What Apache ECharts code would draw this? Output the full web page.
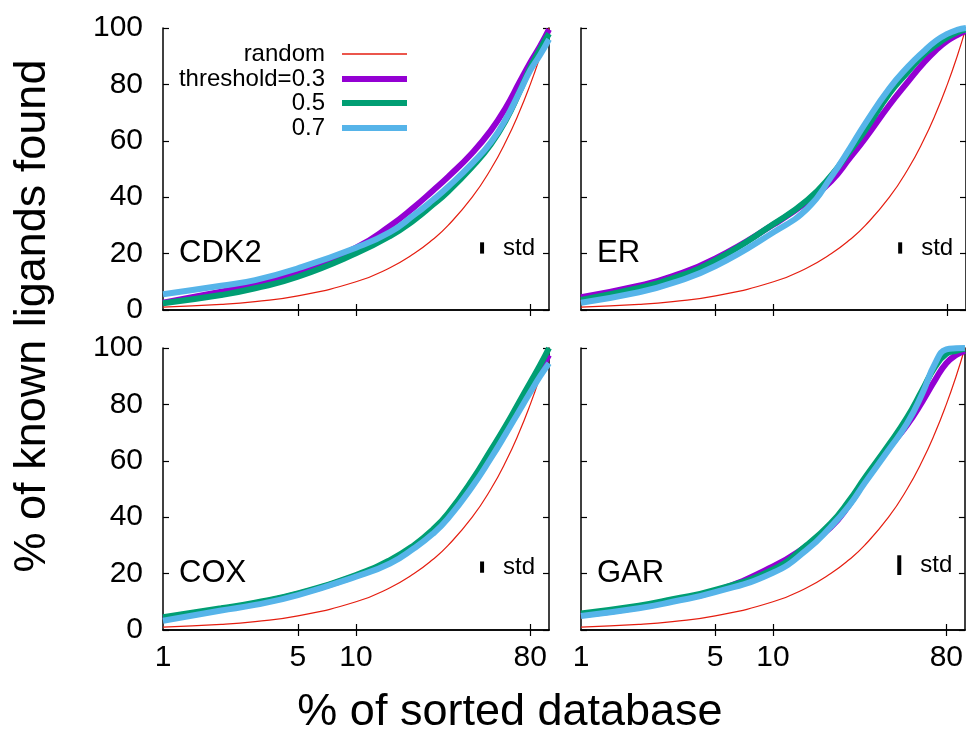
<!DOCTYPE html>
<html>
<head>
<meta charset="utf-8">
<script src="https://cdn.jsdelivr.net/npm/echarts@6/dist/echarts.min.js"></script>
<style>
  html, body { margin: 0; padding: 0; background: #fff; }
  #main { width: 966px; height: 730px; }
</style>
</head>
<body>
<div id="main"></div>
<script>
// % of sorted database (x) for every curve
const xPct = [1, 2, 3, 5, 10, 15, 20, 25, 30, 40, 50, 60, 70, 80, 90, 100];
const randomPct = [1, 2, 3, 5, 10, 15, 20, 25, 30, 40, 50, 60, 70, 80, 90, 100];

const panels = ['CDK2', 'ER', 'COX', 'GAR'];

// % of known ligands found, per threshold
const cdk2_03 = [2.6, 6.5, 8.9, 13.4, 22.1, 29.8, 36.5, 42.3, 47.2, 55.7, 63.7, 72, 80.5, 87.8, 93.6, 99.5];
const cdk2_05 = [2.4, 5.3, 7.7, 11.8, 20.1, 26.2, 31.9, 37.3, 42, 50.8, 58.8, 67.5, 77, 86, 92.5, 98];
const cdk2_07 = [5.6, 8.6, 10.6, 14.8, 22.1, 27.6, 33.7, 39, 43.7, 52, 59.5, 68, 77, 85, 90.5, 96];

const er_03 = [4.5, 8.6, 12, 18.3, 30.3, 38.4, 45.8, 54, 60.9, 72.7, 81, 87.5, 92.2, 95.5, 97.5, 99];
const er_05 = [3.6, 7.8, 11.2, 17.7, 30.5, 39, 47.8, 56.5, 63.8, 76.8, 84.5, 90.4, 94, 96.7, 98.5, 99.5];
const er_07 = [2.6, 6.3, 9.6, 15.6, 27.6, 36, 47.3, 57.5, 66.2, 78.6, 86.3, 91.6, 95.5, 97.9, 99.3, 100];

const cox_03 = [4.2, 7.4, 9.4, 12.8, 19.2, 24.2, 29.6, 34.8, 40.6, 52, 62.3, 71.2, 79.2, 86, 92, 97.5];
const cox_05 = [4.5, 7.7, 9.7, 13, 19.5, 24.8, 30.1, 35.6, 41.4, 53.2, 63.8, 72.7, 80.8, 87.8, 94, 100];
const cox_07 = [3.3, 6.9, 8.9, 12.4, 18.9, 23.6, 29, 34.1, 39.6, 50.8, 60.9, 69.8, 77.6, 84.3, 90, 94.6];

const gar_03 = [5.2, 8, 10.4, 13.8, 22.5, 29.8, 36.4, 44.4, 52.6, 64.4, 72.7, 81, 88.7, 94.6, 97.5, 99];
const gar_05 = [5.9, 8.6, 10.9, 14.2, 21.5, 30.1, 37.8, 46, 53.8, 65.6, 75.4, 85.1, 93.4, 97.9, 99, 99.8];
const gar_07 = [5, 7.7, 10, 13.4, 20.3, 28.4, 36.6, 44.2, 52, 63.8, 73.3, 83.9, 94.6, 99.5, 99.9, 100];

// std marker (x, centre y, half height) per panel
const stdX = [45, 45.5, 45, 45.5];
const stdY = [22, 22, 22.3, 23];
const stdHalf = [2, 2, 2, 3.5];

const xTicks = [5, 10, 80];
const xLabels = [1, 5, 10, 80];

const curves = [
  [cdk2_03, cdk2_05, cdk2_07],
  [er_03, er_05, er_07],
  [cox_03, cox_05, cox_07],
  [gar_03, gar_05, gar_07]
];

const names = ['random', 'threshold=0.3', '0.5', '0.7'];
const colors = ['#e51e10', '#9400d3', '#009e73', '#56b4e9'];
const font = 'Liberation Sans, Arial, Helvetica, sans-serif';

var myChart = echarts.init(document.getElementById('main'));

const grids = [
  { left: 163, top: 28, width: 386, height: 282 },
  { left: 581, top: 28, width: 385, height: 282 },
  { left: 163, top: 348, width: 386, height: 282 },
  { left: 581, top: 348, width: 385, height: 282 }
];

const frame = { show: true, lineStyle: { color: '#000', width: 1.5 } };
const tick = { show: true, inside: true, length: 6, lineStyle: { color: '#000', width: 1.2 } };

let xAxes = [], yAxes = [], series = [], titles = [];

grids.forEach(function (g, i) {
  const bottomRow = i >= 2;
  const leftCol = i % 2 === 0;
  // bottom + top x axes
  xAxes.push({
    type: 'log', logBase: 10, min: 1, max: 100, gridIndex: i, position: 'bottom',
    axisLine: frame, splitLine: { show: false }, minorTick: { show: false },
    axisTick: Object.assign({}, tick, { customValues: xTicks }),
    axisLabel: { show: bottomRow, customValues: xLabels, margin: 13, fontSize: 30, color: '#000', fontFamily: font }
  });
  xAxes.push({
    type: 'log', logBase: 10, min: 1, max: 100, gridIndex: i, position: 'top',
    axisLine: frame, splitLine: { show: false },
    axisTick: Object.assign({}, tick, { customValues: xTicks }),
    axisLabel: { show: false }
  });
  // left + right y axes
  yAxes.push({
    type: 'value', min: 0, max: 100, interval: 20, gridIndex: i, position: 'left',
    axisLine: frame, splitLine: { show: false }, axisTick: tick,
    axisLabel: { show: leftCol, margin: 20, fontSize: 30, color: '#000', fontFamily: font }
  });
  yAxes.push({
    type: 'value', min: 0, max: 100, interval: 20, gridIndex: i, position: 'right',
    axisLine: frame, splitLine: { show: false }, axisTick: tick,
    axisLabel: { show: false }
  });

  const xi = i * 2, yi = i * 2;
  series.push({
    name: names[0], type: 'line', xAxisIndex: xi, yAxisIndex: yi,
    data: xPct.map(function (x, k) { return [x, randomPct[k]]; }),
    smooth: 0.5, showSymbol: false, color: colors[0],
    lineStyle: { width: 1.2 }, silent: true
  });
  curves[i].forEach(function (arr, c) {
    series.push({
      name: names[c + 1], type: 'line', xAxisIndex: xi, yAxisIndex: yi,
      data: xPct.map(function (x, k) { return [x, arr[k]]; }),
      smooth: 0.5, showSymbol: false, color: colors[c + 1],
      lineStyle: { width: 6 }, silent: true
    });
  });
  // std bar
  series.push({
    type: 'line', xAxisIndex: xi, yAxisIndex: yi, silent: true,
    data: [[stdX[i], stdY[i] - stdHalf[i]], [stdX[i], stdY[i] + stdHalf[i]]],
    showSymbol: false, color: '#000', lineStyle: { width: 4, cap: 'butt' }
  });
  series.push({
    type: 'scatter', xAxisIndex: xi, yAxisIndex: yi, silent: true,
    data: [[stdX[i], stdY[i]]], symbolSize: 0,
    itemStyle: { opacity: 1 },
    label: { show: true, position: 'right', distance: 21, formatter: 'std', fontSize: 24, color: '#000', opacity: 1, fontFamily: font }
  });

  titles.push({
    text: panels[i], left: g.left + 16, top: g.top + 210, padding: 0,
    textStyle: { fontSize: 31, fontWeight: 'normal', color: '#000', fontFamily: font }
  });
});

const legendTops = [42, 67, 91, 116];
const legends = names.map(function (n, k) {
  return {
    data: [n], right: 559, top: legendTops[k], padding: 0, align: 'right',
    icon: 'rect', itemWidth: 65, itemHeight: k === 0 ? 1.5 : 6,
    selectedMode: false,
    textStyle: { fontSize: 24, color: '#000', fontFamily: font, padding: [0, 12, 0, 0] }
  };
});

let option = {
  animation: false,
  backgroundColor: '#fff',
  title: titles,
  legend: legends,
  grid: grids,
  xAxis: xAxes,
  yAxis: yAxes,
  series: series,
  graphic: [
    {
      type: 'text', x: 33, y: 316, rotation: Math.PI / 2,
      style: { text: '% of known ligands found', fontSize: 45, fontFamily: font, fill: '#000', align: 'center', verticalAlign: 'middle' }
    },
    {
      type: 'text', x: 510, y: 713,
      style: { text: '% of sorted database', fontSize: 45, fontFamily: font, fill: '#000', align: 'center', verticalAlign: 'middle' }
    }
  ]
};

myChart.setOption(option);
</script>
</body>
</html>
